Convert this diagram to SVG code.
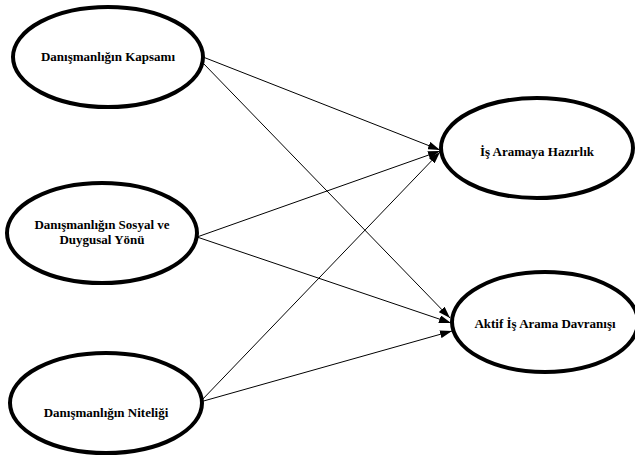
<svg xmlns="http://www.w3.org/2000/svg" width="635" height="455" viewBox="0 0 635 455">
  <style>
    .node ellipse { fill: #ffffff; stroke: #000000; stroke-width: 4; }
    .node text { font-family: "Liberation Serif", "Times New Roman", "DejaVu Serif", serif; font-weight: bold; font-size: 13px; fill: #000000; text-anchor: middle; }
    .edges line { stroke: #000000; stroke-width: 1; marker-end: url(#arrow); }
  </style>
  <defs>
    <marker id="arrow" viewBox="0 0 12 8" refX="12" refY="4" markerWidth="12" markerHeight="8" markerUnits="userSpaceOnUse" orient="auto">
      <path d="M0,0 L12,4 L0,8 Z" fill="#000000"/>
    </marker>
  </defs>
  <rect width="635" height="455" fill="#ffffff"/>

  <g class="edges">
    <line x1="203" y1="57" x2="440" y2="150"/>
    <line x1="203" y1="63" x2="450" y2="318"/>
    <line x1="197" y1="237" x2="440" y2="151"/>
    <line x1="197" y1="237" x2="451" y2="323"/>
    <line x1="200" y1="402" x2="440" y2="152"/>
    <line x1="200" y1="402" x2="452" y2="331"/>
  </g>

  <g id="kapsam" class="node">
    <ellipse cx="108" cy="57" rx="95" ry="50"/>
    <text x="108" y="61">Danışmanlığın Kapsamı</text>
  </g>

  <g id="sosyal" class="node">
    <ellipse cx="102" cy="233" rx="95" ry="50"/>
    <text x="102" y="229">Danışmanlığın Sosyal ve</text>
    <text x="102" y="244">Duygusal Yönü</text>
  </g>

  <g id="nitelik" class="node">
    <ellipse cx="106" cy="403" rx="96" ry="50"/>
    <text x="106" y="417">Danışmanlığın Niteliği</text>
  </g>

  <g id="hazirlik" class="node">
    <ellipse cx="537" cy="148" rx="96" ry="50"/>
    <text x="537" y="156">İş Aramaya Hazırlık</text>
  </g>

  <g id="davranis" class="node">
    <ellipse cx="545" cy="322" rx="93" ry="50"/>
    <text x="545" y="328">Aktif İş Arama Davranışı</text>
  </g>
</svg>
